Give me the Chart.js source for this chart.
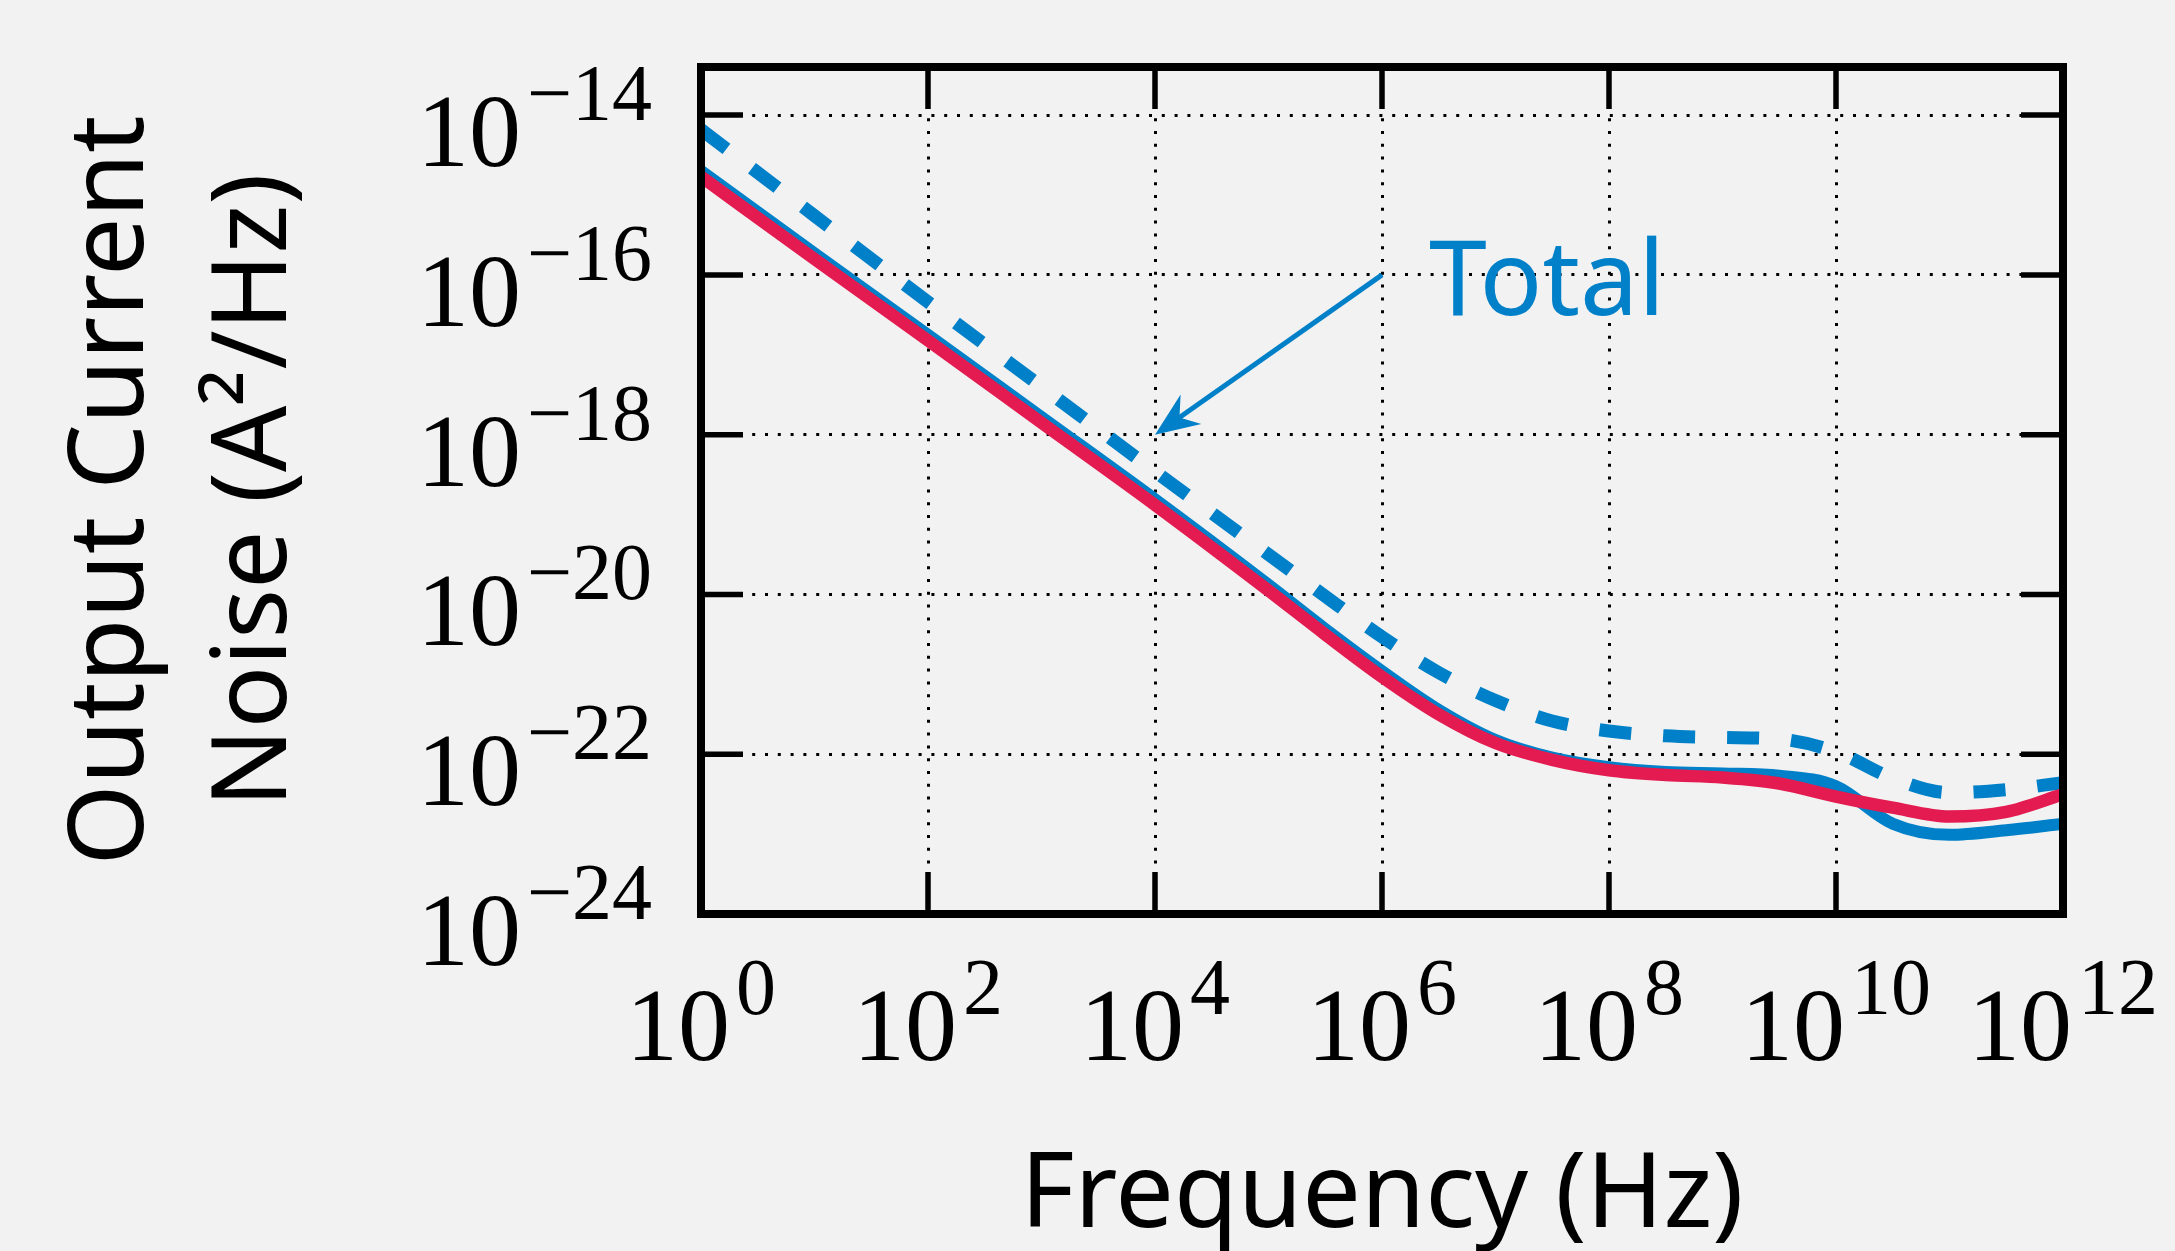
<!DOCTYPE html>
<html>
<head>
<meta charset="utf-8">
<script src="https://cdn.jsdelivr.net/npm/chart.js@4.4.1/dist/chart.umd.min.js"></script>
<style>
  html, body { margin: 0; padding: 0; background: #f2f2f2; }
  canvas { display: block; }
</style>
</head>
<body>
<canvas id="noise" width="2175" height="1251"></canvas>
<script>
// frequency points (Hz)
var freq = [1, 1e1, 1e2, 1e3, 1e4, 1e5, 3.16e5, 1e6, 3.16e6, 1e7, 3.16e7, 1e8, 3.16e8, 1e9, 3.16e9, 1e10, 3.16e10, 1e11, 3.16e11, 1e12];

// output current noise (A^2/Hz)
var totalNoise = [6.6e-15, 5.5e-16, 4.57e-17, 3.98e-18, 3.47e-19, 3.16e-20, 9.5e-21, 2.95e-21, 1.05e-21, 4.7e-22, 2.6e-22, 1.95e-22, 1.7e-22, 1.62e-22, 1.55e-22, 1.07e-22, 5.0e-23, 3.3e-23, 3.6e-23, 4.4e-23];
var blueNoise = [2.0e-15, 1.86e-16, 1.78e-17, 1.66e-18, 1.55e-19, 1.32e-20, 3.7e-21, 1.1e-21, 3.6e-22, 1.51e-22, 9.1e-23, 6.9e-23, 6.0e-23, 5.75e-23, 5.4e-23, 3.98e-23, 1.35e-23, 9.8e-24, 1.12e-23, 1.35e-23];
var redNoise = [1.7e-15, 1.58e-16, 1.51e-17, 1.41e-18, 1.32e-19, 1.12e-20, 3.16e-21, 9.3e-22, 3.16e-22, 1.38e-22, 8.5e-23, 6.3e-23, 5.5e-23, 5.1e-23, 4.3e-23, 2.95e-23, 2.14e-23, 1.66e-23, 1.9e-23, 3.16e-23];

// ticks
var xTicks = [1, 1e2, 1e4, 1e6, 1e8, 1e10, 1e12];
var xTickExps = ['0', '2', '4', '6', '8', '10', '12'];
var yTicks = [1e-24, 1e-22, 1e-20, 1e-18, 1e-16, 1e-14];
var yTickExps = ['\u221224', '\u221222', '\u221220', '\u221218', '\u221216', '\u221214'];

var annotText = 'Total';
var arrowFrom = [1e6, 1e-16];
var arrowTo = [1e4, 1e-18];

var blue = '#0080c8';
var red = '#e31b50';

function pts(ys) {
  return freq.map(function (f, i) { return { x: f, y: ys[i] }; });
}

var labelFont = '"Liberation Serif", serif';
var titleFont = '"Noto Sans", sans-serif';

function drawPow(ctx, exp, x, y, align) {
  // "10" with a superscript exponent, y = baseline of "10"
  ctx.font = '104px ' + labelFont;
  var wb = ctx.measureText('10').width;
  ctx.font = '80px ' + labelFont;
  var we = ctx.measureText(exp).width;
  var gap = 6;
  var total = wb + gap + we;
  var left = align === 'right' ? x - total : x - total / 2;
  ctx.textAlign = 'left';
  ctx.textBaseline = 'alphabetic';
  ctx.font = '104px ' + labelFont;
  ctx.fillText('10', left, y);
  ctx.font = '80px ' + labelFont;
  ctx.fillText(exp, left + wb + gap, y - 46);
}

var decor = {
  id: 'decor',
  beforeDraw: function (chart) {
    var ctx = chart.ctx;
    ctx.save();
    ctx.fillStyle = '#f2f2f2';
    ctx.fillRect(0, 0, chart.width, chart.height);
    ctx.restore();
  },
  afterDraw: function (chart) {
    var ctx = chart.ctx;
    var a = chart.chartArea;
    var xs = chart.scales.x, ys = chart.scales.y;
    var tl = 42;
    ctx.save();
    ctx.strokeStyle = '#000';
    ctx.lineWidth = 5.5;
    ctx.beginPath();
    xTicks.forEach(function (v) {
      var px = xs.getPixelForValue(v);
      if (px <= a.left + 2 || px >= a.right - 2) return;
      ctx.moveTo(px, a.bottom); ctx.lineTo(px, a.bottom - tl);
      ctx.moveTo(px, a.top); ctx.lineTo(px, a.top + tl);
    });
    yTicks.forEach(function (v) {
      var py = ys.getPixelForValue(v);
      if (py <= a.top + 2 || py >= a.bottom - 2) return;
      ctx.moveTo(a.left, py); ctx.lineTo(a.left + tl, py);
      ctx.moveTo(a.right, py); ctx.lineTo(a.right - tl, py);
    });
    ctx.stroke();
    // frame
    ctx.lineWidth = 8;
    ctx.lineJoin = 'miter';
    ctx.strokeRect(a.left, a.top, a.right - a.left, a.bottom - a.top);

    // tick labels
    ctx.fillStyle = '#000';
    xTicks.forEach(function (v, i) {
      drawPow(ctx, xTickExps[i], xs.getPixelForValue(v), 1060, 'center');
    });
    yTicks.forEach(function (v, i) {
      drawPow(ctx, yTickExps[i], 652, ys.getPixelForValue(v) + 51, 'right');
    });

    // axis titles
    ctx.font = '104px ' + titleFont;
    ctx.textAlign = 'center';
    ctx.textBaseline = 'alphabetic';
    ctx.fillText('Frequency (Hz)', (a.left + a.right) / 2, 1227);
    ctx.save();
    ctx.translate(143, (a.top + a.bottom) / 2);
    ctx.rotate(-Math.PI / 2);
    ctx.fillText('Output Current', 0, 0);
    ctx.fillText('Noise (A\u00b2/Hz)', 0, 143);
    ctx.restore();

    // annotation arrow
    var x0 = xs.getPixelForValue(arrowFrom[0]), y0 = ys.getPixelForValue(arrowFrom[1]);
    var x1 = xs.getPixelForValue(arrowTo[0]), y1 = ys.getPixelForValue(arrowTo[1]);
    var ang = Math.atan2(y1 - y0, x1 - x0);
    var hl = 44, hw = 18;
    ctx.strokeStyle = blue;
    ctx.fillStyle = blue;
    ctx.lineWidth = 5;
    ctx.beginPath();
    ctx.moveTo(x0, y0);
    ctx.lineTo(x1 - Math.cos(ang) * hl * 0.6, y1 - Math.sin(ang) * hl * 0.6);
    ctx.stroke();
    ctx.save();
    ctx.translate(x1, y1);
    ctx.rotate(ang);
    ctx.beginPath();
    ctx.moveTo(0, 0);
    ctx.lineTo(-hl, -hw);
    ctx.lineTo(-hl * 0.68, 0);
    ctx.lineTo(-hl, hw);
    ctx.closePath();
    ctx.fill();
    ctx.restore();
    ctx.font = '104px ' + titleFont;
    ctx.textAlign = 'left';
    ctx.textBaseline = 'alphabetic';
    ctx.fillText(annotText, x0 + 47, y0 + 40);
    ctx.restore();
  }
};

var ctx = document.getElementById('noise').getContext('2d');
var chart = new Chart(ctx, {
  type: 'line',
  data: {
    datasets: [{
      label: 'Red',
      data: pts(redNoise),
      borderColor: red,
      borderWidth: 12.5,
      pointRadius: 0,
      cubicInterpolationMode: 'monotone'
    }, {
      label: 'Blue',
      data: pts(blueNoise),
      borderColor: blue,
      borderWidth: 12,
      pointRadius: 0,
      cubicInterpolationMode: 'monotone'
    }, {
      label: 'Total',
      data: pts(totalNoise),
      borderColor: blue,
      borderWidth: 13,
      borderDash: [32, 32],
      pointRadius: 0,
      cubicInterpolationMode: 'monotone'
    }]
  },
  options: {
    responsive: false,
    animation: false,
    layout: { padding: { left: 701, top: 67, right: 112, bottom: 337 } },
    plugins: { legend: { display: false }, tooltip: { enabled: false } },
    scales: {
      x: {
        type: 'logarithmic',
        min: 1,
        max: 1e12,
        afterBuildTicks: function (s) { s.ticks = xTicks.map(function (v) { return { value: v }; }); },
        ticks: { display: false },
        grid: { color: '#000', lineWidth: 3, drawTicks: false },
        border: { display: false, dash: [3, 9.8] }
      },
      y: {
        type: 'logarithmic',
        min: 1e-24,
        max: 4e-14,
        afterBuildTicks: function (s) { s.ticks = yTicks.map(function (v) { return { value: v }; }); },
        ticks: { display: false },
        grid: { color: '#000', lineWidth: 3, drawTicks: false },
        border: { display: false, dash: [3, 9.8] }
      }
    }
  },
  plugins: [decor]
});
</script>
</body>
</html>
